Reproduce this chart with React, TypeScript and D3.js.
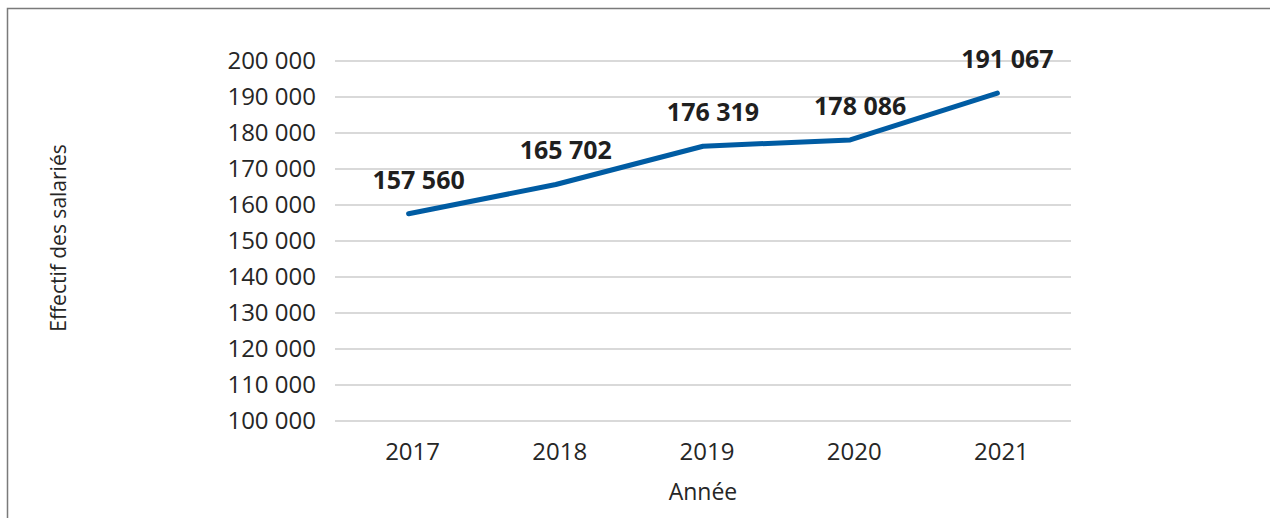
import * as d3 from "d3";
import { useEffect, useRef } from "react";

const years = ["2017", "2018", "2019", "2020", "2021"];
const effectifs = [157560, 165702, 176319, 178086, 191067];
const yTicks = [100000, 110000, 120000, 130000, 140000, 150000, 160000, 170000, 180000, 190000, 200000];

const W = 1270;
const H = 518;
const FONT = "'Open Sans', sans-serif";

const fmt = (v: number) => d3.format(",")(v).replace(/,/g, " ");

const App = () => {
  const svgRef = useRef<SVGSVGElement | null>(null);

  useEffect(() => {
    const svg = d3.select(svgRef.current);
    svg.selectAll("*").remove();

    // frame
    svg
      .append("rect")
      .attr("x", 7.5)
      .attr("y", 8.5)
      .attr("width", W + 20)
      .attr("height", H + 20)
      .attr("fill", "white")
      .attr("stroke", "#7a7a7a")
      .attr("stroke-width", 1.5);

    const x = d3.scaleBand().domain(years).range([335, 1071]);
    const y = d3.scaleLinear().domain([100000, 200000]).range([421, 61]);

    // gridlines
    svg
      .append("g")
      .selectAll("line")
      .data(yTicks)
      .join("line")
      .attr("x1", 335)
      .attr("x2", 1071)
      .attr("y1", (d) => y(d))
      .attr("y2", (d) => y(d))
      .attr("stroke", "#d9d9d9")
      .attr("stroke-width", 2);

    // y tick labels
    svg
      .append("g")
      .selectAll("text")
      .data(yTicks)
      .join("text")
      .attr("x", 316)
      .attr("y", (d) => y(d))
      .attr("dy", "0.35em")
      .attr("text-anchor", "end")
      .attr("font-family", FONT)
      .attr("font-size", 24)
      .attr("fill", "#262626")
      .text((d) => fmt(d));

    // x tick labels
    svg
      .append("g")
      .selectAll("text")
      .data(years)
      .join("text")
      .attr("x", (d) => (x(d) as number) + x.bandwidth() / 2 + 4)
      .attr("y", 452)
      .attr("dy", "0.35em")
      .attr("text-anchor", "middle")
      .attr("font-family", FONT)
      .attr("font-size", 24)
      .attr("fill", "#262626")
      .text((d) => d);

    // axis titles
    svg
      .append("text")
      .attr("x", 703)
      .attr("y", 492)
      .attr("dy", "0.35em")
      .attr("text-anchor", "middle")
      .attr("font-family", FONT)
      .attr("font-size", 23)
      .attr("fill", "#262626")
      .text("Année");

    svg
      .append("text")
      .attr("transform", "translate(59,238) rotate(-90)")
      .attr("dy", "0.35em")
      .attr("text-anchor", "middle")
      .attr("font-family", FONT)
      .attr("font-size", 21)
      .attr("fill", "#262626")
      .text("Effectif des salariés");

    const pts = years.map((yr, i) => ({ yr, v: effectifs[i] }));

    const line = d3
      .line<{ yr: string; v: number }>()
      .x((d) => (x(d.yr) as number) + x.bandwidth() / 2)
      .y((d) => y(d.v));

    svg
      .append("path")
      .datum(pts)
      .attr("d", line)
      .attr("fill", "none")
      .attr("stroke", "#005ca3")
      .attr("stroke-width", 5)
      .attr("stroke-linecap", "round")
      .attr("stroke-linejoin", "round");

    // data labels
    svg
      .append("g")
      .selectAll("text")
      .data(pts)
      .join("text")
      .attr("x", (d) => (x(d.yr) as number) + x.bandwidth() / 2 + 10)
      .attr("y", (d) => y(d.v) - 25)
      .attr("text-anchor", "middle")
      .attr("font-family", FONT)
      .attr("font-weight", 700)
      .attr("font-size", 25)
      .attr("fill", "#1f1f1f")
      .text((d) => fmt(d.v));
  }, []);

  return (
    <svg
      ref={svgRef}
      width={W}
      height={H}
      style={{ position: "absolute", left: 0, top: 0 }}
    />
  );
};

export default App;
